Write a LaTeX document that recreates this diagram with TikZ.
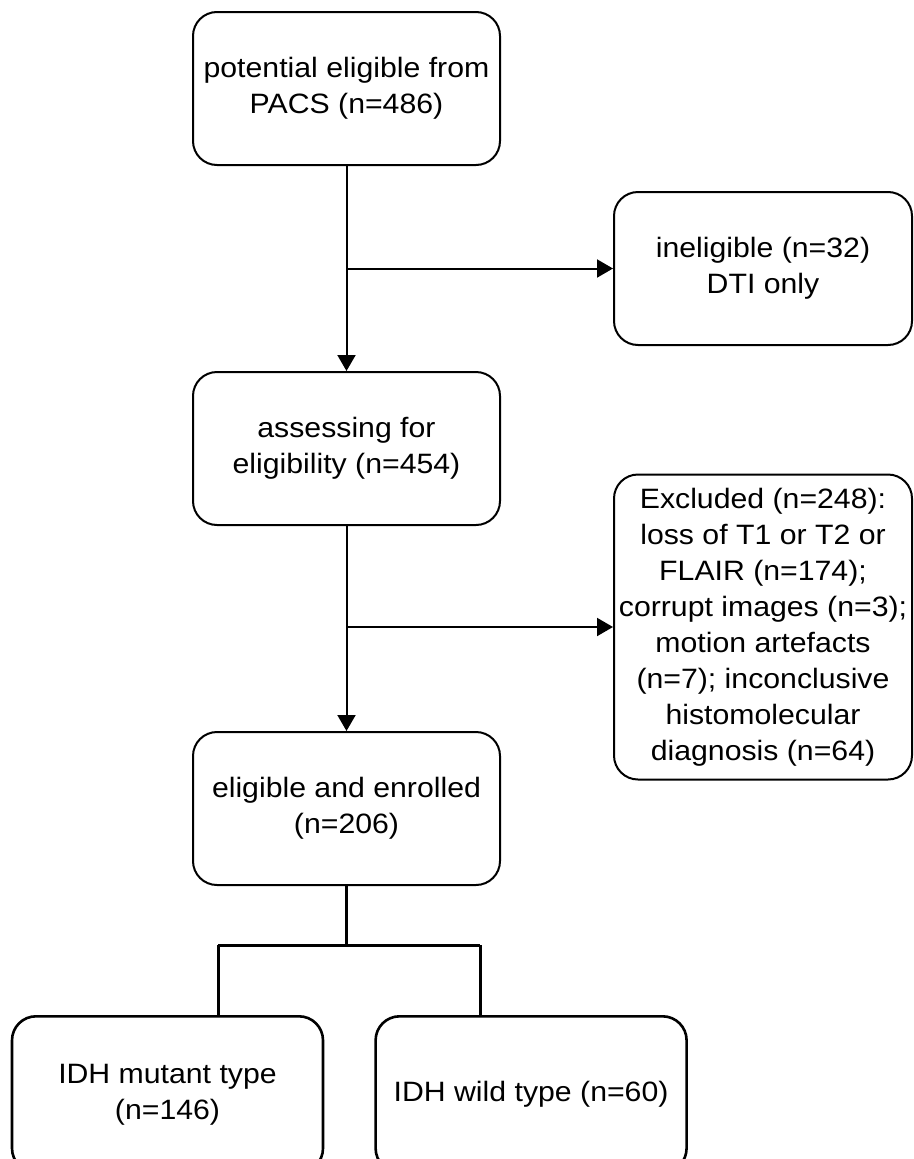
\documentclass[tikz,border=0pt]{standalone}
\usepackage{fontspec}
\setmainfont[FakeStretch=1.08]{Liberation Sans}
\usetikzlibrary{arrows.meta, positioning}

\begin{document}
\begin{tikzpicture}[
  x=1pt, y=1pt,
  font=\fontsize{28pt}{36pt}\selectfont,
  node distance = 205pt and 112pt,
  >={Triangle[length=16pt, width=18pt]},  % Arrow tip
  line width=2pt,
  % Define block styles
  flowblock/.style={
    draw,
    rounded corners=24pt,
    minimum width=307pt,
    minimum height=153pt,
    align=center
  },
  sideblock/.style={
    flowblock,
    minimum width=298pt,
    inner xsep=2pt
  },
  groupblock/.style={
    flowblock,
    minimum width=311pt,
    minimum height=156pt,
    line width=2.6pt
  },
  % Arrows style
  connector/.style={
    ->
  },
  branch/.style={
    line width=3pt
  }
]

\clip (0,0) rectangle (913,-1159);
\fill[white] (0,0) rectangle (913,-1159);

% -----------------------------------------------
% MAIN FLOW
% -----------------------------------------------
\node[flowblock] (pacs) at (346.5,-88.5) {potential eligible from\\PACS (n=486)};

\node[flowblock, below=of pacs] (assess) {assessing for\\eligibility (n=454)};

\node[flowblock, below=of assess] (enrol) {eligible and enrolled\\(n=206)};

% -----------------------------------------------
% SIDE BOXES
% -----------------------------------------------
\node[sideblock, below right=25pt and 112pt of pacs] (inelig) {ineligible (n=32)\\DTI only};

\node[sideblock, minimum height=305pt, right=of assess, yshift=-178.5pt] (excl) {
  Excluded (n=248):\\
  loss of T1 or T2 or\\
  FLAIR (n=174);\\
  corrupt images (n=3);\\
  motion artefacts\\
  (n=7); inconclusive\\
  histomolecular\\
  diagnosis (n=64)
};

% -----------------------------------------------
% IDH GROUPS
% -----------------------------------------------
\node[groupblock, below=129pt of enrol, xshift=-179pt] (mutant) {IDH mutant type\\(n=146)};

\node[groupblock, right=50pt of mutant] (wild) {IDH wild type (n=60)};

% -----------------------------------------------
% ARROWS AND CONNECTIONS
% -----------------------------------------------
\draw[connector] (pacs) -- (assess);
\draw[connector] (pacs.south |- inelig.west) -- (inelig.west);

\draw[connector] (assess) -- (enrol);
\draw[connector] (assess.south |- excl.west) -- (excl.west);

% Split into the two groups
\coordinate (forkL) at (218,-945);
\coordinate (forkR) at (480,-945);

\draw[branch] (enrol.south) -- (enrol.south |- forkL);
\draw[branch] (forkL) -- (forkR);
\draw[branch] (forkL) -- (forkL |- mutant.north);
\draw[branch] (forkR) -- (forkR |- wild.north);

\end{tikzpicture}
\end{document}
